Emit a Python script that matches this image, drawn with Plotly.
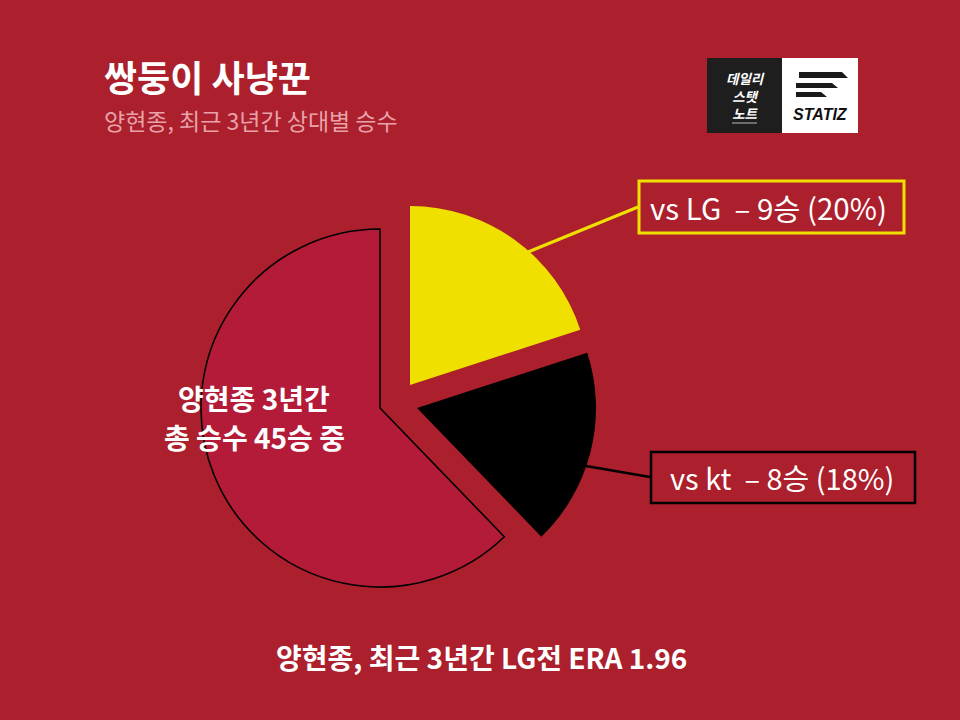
import plotly.graph_objects as go

# ---- data ----
labels = ["vs LG", "vs kt", "기타"]
wins = [9, 8, 28]
total_wins = 45
slice_colors = ["#F0E000", "#000000", "#B31B38"]

title = "쌍둥이 사냥꾼"
subtitle = "양현종, 최근 3년간 상대별 승수"
center_lines = ["양현종 3년간", "총 승수 45승 중"]
footer = "양현종, 최근 3년간 LG전 ERA 1.96"
logo_lines = ["데일리", "스탯", "노트"]

BG = "#AC1F2C"
W, H = 960, 720
FONT = "Noto Sans CJK KR"

def px(x):
    return x / W

def py(y):
    return 1 - y / H

# pie geometry (pixels): centre, radius and exploded offset of each slice
cx, cy, r = 380, 408, 179
explode_offsets = [(30, -23), (37, 0), (0, 0)]

fig = go.Figure()
for i, (dx, dy) in enumerate(explode_offsets):
    colors = [c if j == i else "rgba(0,0,0,0)" for j, c in enumerate(slice_colors)]
    lw = [1.6 if (j == i and j == 2) else 0 for j in range(len(wins))]
    fig.add_trace(go.Pie(
        labels=labels,
        values=wins,
        sort=False,
        direction="clockwise",
        rotation=0,
        marker=dict(colors=colors, line=dict(color="#000000", width=lw)),
        textinfo="none",
        hoverinfo="label+value+percent" if i == 2 else "skip",
        showlegend=False,
        domain=dict(x=[px(cx + dx - r), px(cx + dx + r)], y=[py(cy + dy + r), py(cy + dy - r)]),
    ))

shapes = []
annotations = []

def txt(x, y, text, size, color="#FFFFFF", anchor="left", family=FONT):
    annotations.append(dict(x=px(x), y=py(y), xref="paper", yref="paper", xanchor=anchor, yanchor="middle",
                            text=text, showarrow=False, align="center",
                            font=dict(family=family, size=size, color=color)))

# title & subtitle
txt(102, 76, "<b>" + title + "</b>", 36)
txt(102, 120, subtitle, 23, color="#E8A2AA")

# center text
txt(254, 398, "<b>" + center_lines[0] + "</b>", 28, anchor="center")
txt(254, 437, "<b>" + center_lines[1] + "</b>", 28, anchor="center")

# footer
txt(481, 657, "<b>" + footer + "</b>", 28, anchor="center")

# label boxes + leader lines
pct = [round(v / total_wins * 100) for v in wins]
lg_text = f"{labels[0]}  – {wins[0]}승 ({pct[0]}%)"
kt_text = f"{labels[1]}  – {wins[1]}승 ({pct[1]}%)"

shapes.append(dict(type="line", xref="paper", yref="paper", x0=px(638), y0=py(207), x1=px(528), y1=py(252),
                   line=dict(color="#F0E000", width=3)))
shapes.append(dict(type="rect", xref="paper", yref="paper", x0=px(639), y0=py(181), x1=px(904), y1=py(233),
                   line=dict(color="#F0E000", width=3), fillcolor=BG))
txt(768, 207, lg_text, 29.5, anchor="center")

shapes.append(dict(type="line", xref="paper", yref="paper", x0=px(650), y0=py(477), x1=px(586), y1=py(466),
                   line=dict(color="#000000", width=2.5)))
shapes.append(dict(type="rect", xref="paper", yref="paper", x0=px(651), y0=py(452), x1=px(915), y1=py(503),
                   line=dict(color="#000000", width=2.5), fillcolor=BG))
txt(782, 477, kt_text, 29, anchor="center")

# logo
shapes.append(dict(type="rect", xref="paper", yref="paper", x0=px(707), y0=py(58), x1=px(782), y1=py(133),
                   line=dict(width=0), fillcolor="#1E1E1E"))
shapes.append(dict(type="rect", xref="paper", yref="paper", x0=px(782), y0=py(58), x1=px(858), y1=py(133),
                   line=dict(width=0), fillcolor="#FFFFFF"))

def para(xl, xr, yt, yb, slant):
    return (f"M {px(xl)} {py(yt)} L {px(xr)} {py(yt)} L {px(xr + slant)} {py(yb)} "
            f"L {px(xl)} {py(yb)} Z")

for xl, xr, yt, yb in [(799, 842, 72, 78), (796, 832, 83, 88), (796, 821, 92, 97)]:
    shapes.append(dict(type="path", xref="paper", yref="paper", path=para(xl, xr, yt, yb, 6),
                       line=dict(width=0), fillcolor="#1A1A1A"))
txt(745, 96, "<b><i>" + "<br>".join(logo_lines) + "</i></b>", 13.5, anchor="center")
shapes.append(dict(type="line", xref="paper", yref="paper", x0=px(732), y0=py(123), x1=px(757), y1=py(123),
                   line=dict(color="#BBBBBB", width=1)))
txt(820, 114, "<b><i>STATIZ</i></b>", 16, color="#111111", anchor="center", family="Liberation Sans")

fig.update_layout(
    width=W, height=H,
    paper_bgcolor=BG, plot_bgcolor=BG,
    margin=dict(l=0, r=0, t=0, b=0),
    shapes=shapes,
    annotations=annotations,
    showlegend=False,
)

fig.write_html("out.html", config={"displayModeBar": False},
               post_script="document.body.style.margin='0';document.body.style.overflow='hidden';")
